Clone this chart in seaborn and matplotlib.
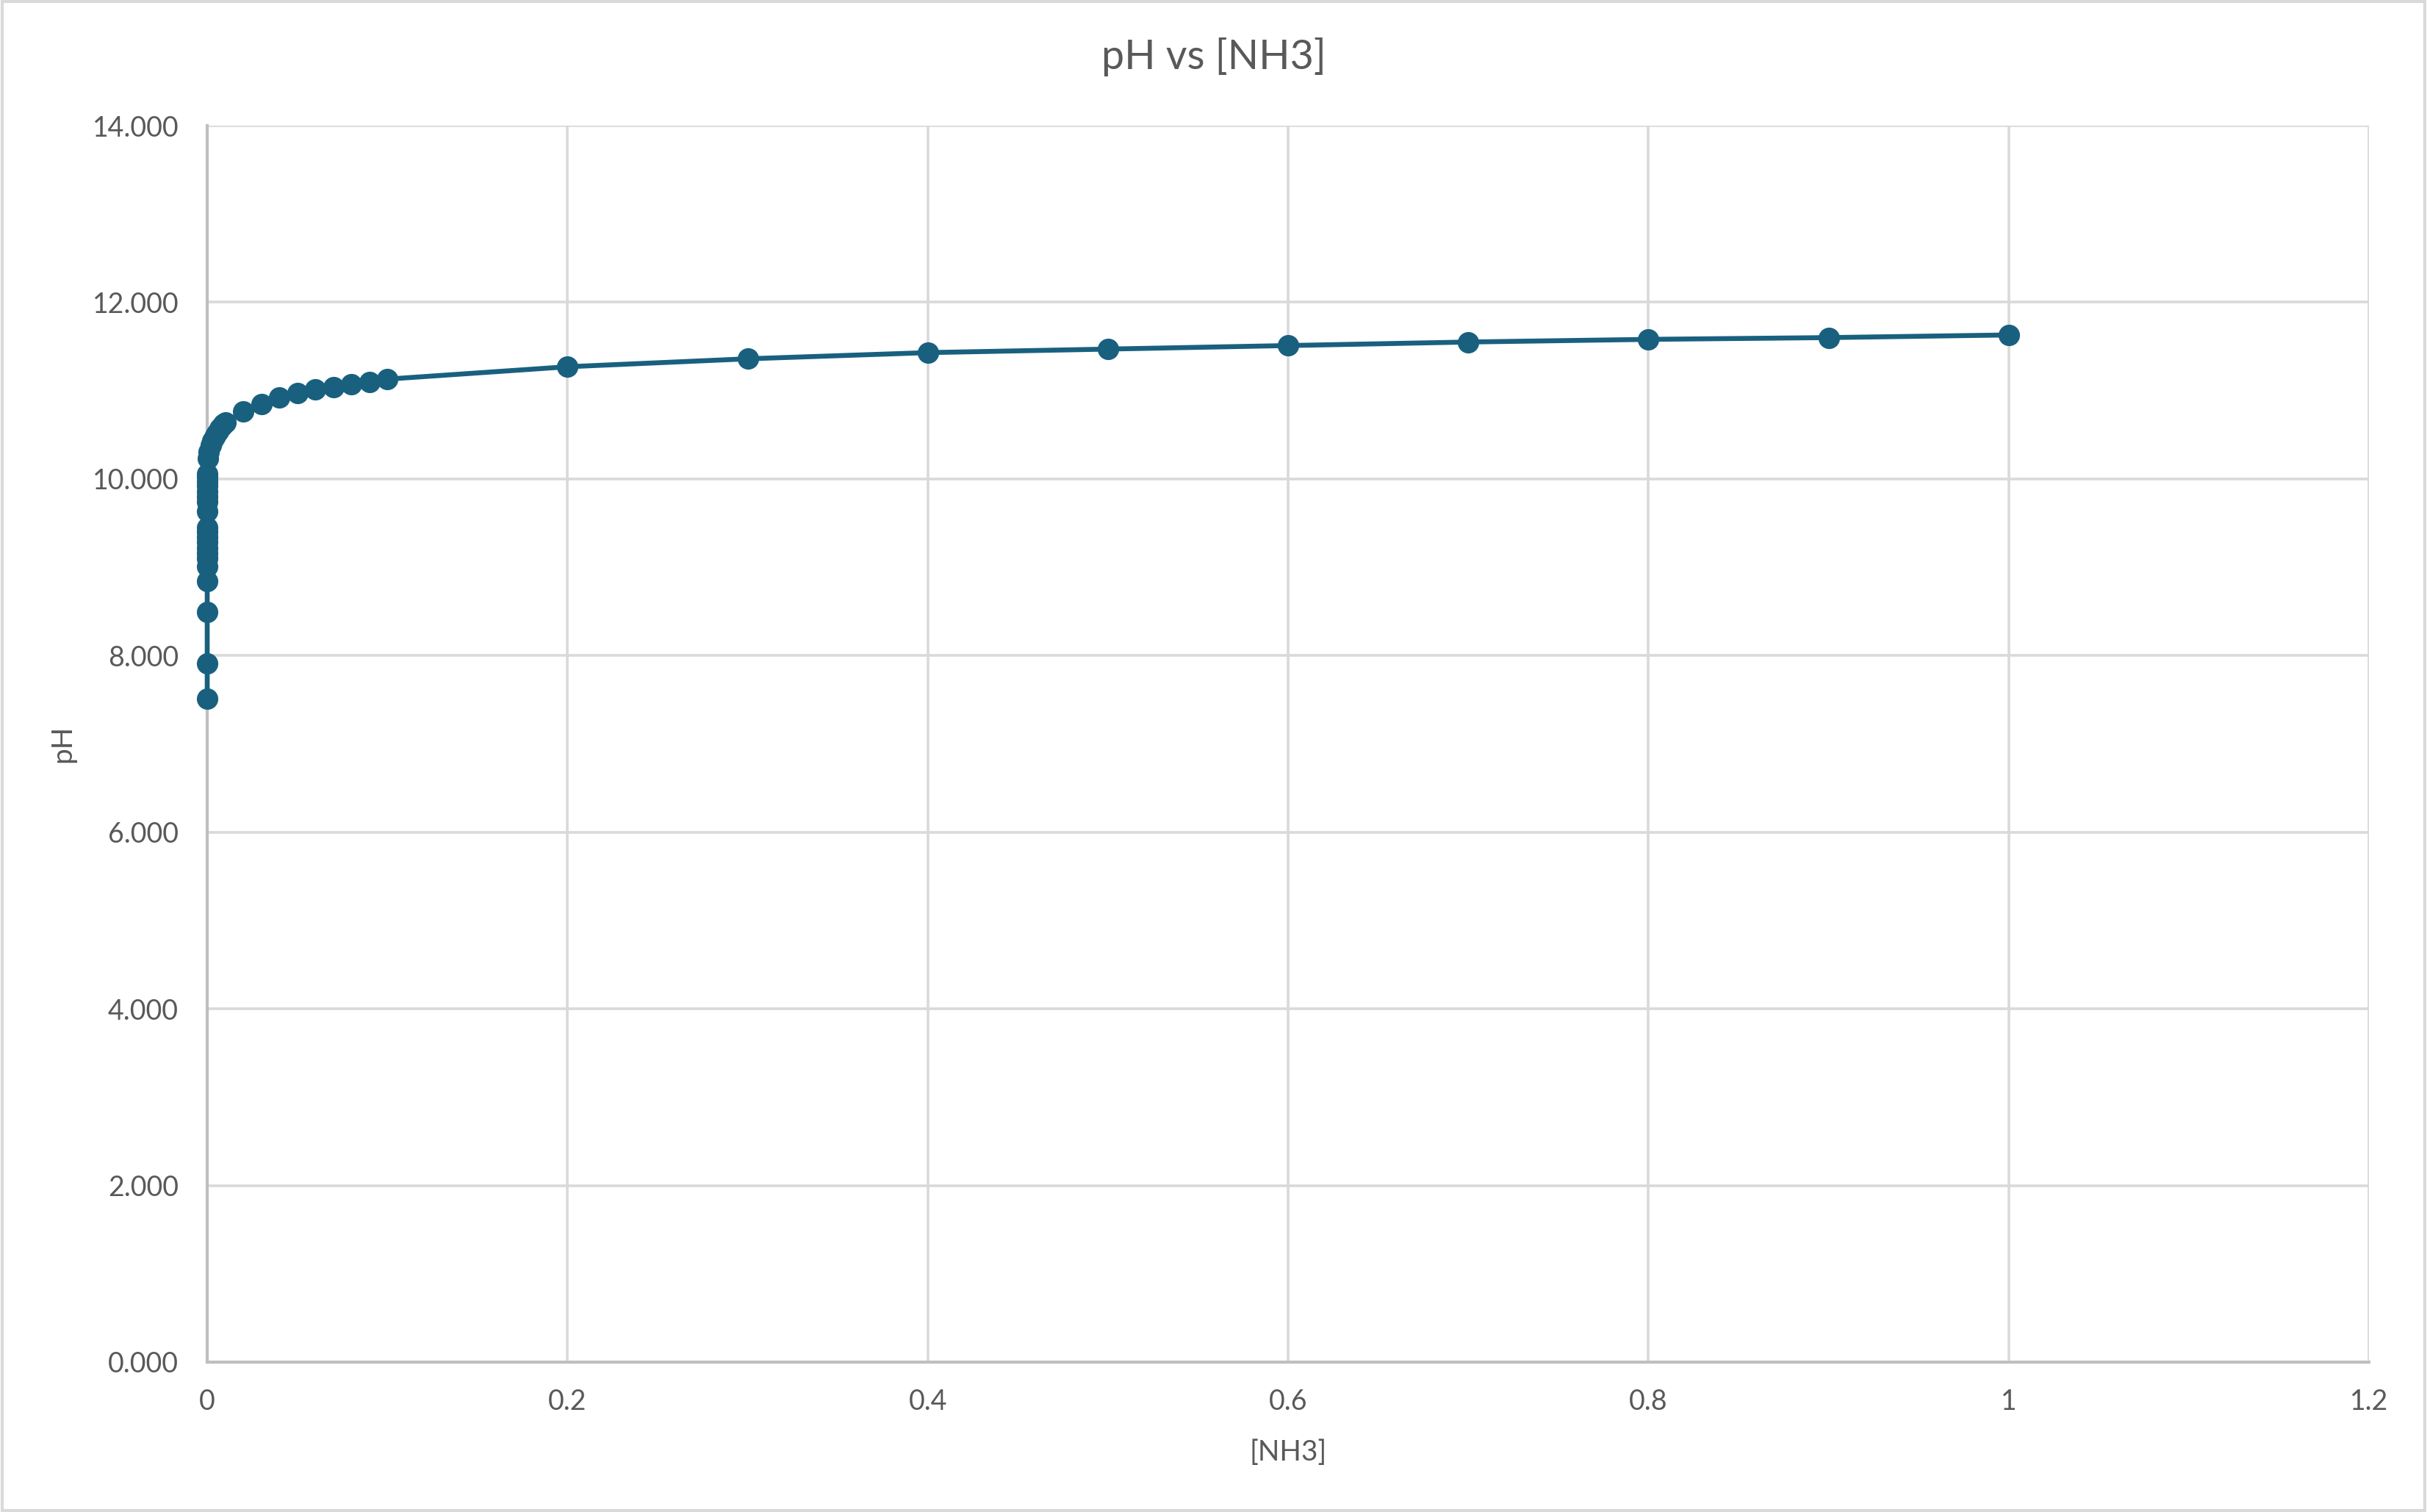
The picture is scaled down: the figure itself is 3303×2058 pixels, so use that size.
import matplotlib
matplotlib.use("Agg")
import matplotlib.pyplot as plt
import seaborn as sns
import pandas as pd
from matplotlib.patches import Rectangle
from matplotlib.ticker import FormatStrFormatter, FixedLocator

conc = [0.0000001, 0.0000002, 0.0000005, 0.000001, 0.0000015, 0.000002, 0.0000025,
        0.000003, 0.0000035, 0.000004, 0.0000045, 0.000005, 0.00001, 0.00002,
        0.00003, 0.00004, 0.00005, 0.00006, 0.00007, 0.00008, 0.0005, 0.001,
        0.002, 0.003, 0.004, 0.005, 0.006, 0.007, 0.008, 0.009, 0.01,
        0.02, 0.03, 0.04, 0.05, 0.06, 0.07, 0.08, 0.09, 0.1,
        0.2, 0.3, 0.4, 0.5, 0.6, 0.7, 0.8, 0.9, 1.0]
ph = [7.51, 7.91, 8.49, 8.84, 9.01, 9.10, 9.16,
      9.22, 9.28, 9.34, 9.40, 9.45, 9.63, 9.74,
      9.80, 9.86, 9.92, 9.97, 10.02, 10.06, 10.23, 10.31,
      10.38, 10.43, 10.47, 10.51, 10.54, 10.57, 10.60, 10.62, 10.64,
      10.76, 10.85, 10.92, 10.97, 11.01, 11.04, 11.07, 11.10, 11.13,
      11.27, 11.36, 11.43, 11.47, 11.51, 11.55, 11.58, 11.60, 11.63]

x_ticks = [0, 0.2, 0.4, 0.6, 0.8, 1.0, 1.2]
x_tick_labels = ["0", "0.2", "0.4", "0.6", "0.8", "1", "1.2"]
y_ticks = [0, 2, 4, 6, 8, 10, 12, 14]

title = "pH vs [NH3]"
xlabel = "[NH3]"
ylabel = "pH"

sns.set_theme(style="white")
plt.rcParams['font.family'] = ['Lato', 'DejaVu Sans']

txt = "#595959"
line_color = "#19607f"

df = pd.DataFrame({"conc": conc, "ph": ph})

fig = plt.figure(figsize=(3303 / 200, 2058 / 200), dpi=200)
ax = fig.add_axes([282 / 3303, 1 - 1854 / 2058, (3224 - 282) / 3303, (1854 - 171) / 2058])

sns.lineplot(data=df, x="conc", y="ph", ax=ax, sort=False, estimator=None,
             color=line_color, linewidth=2.4, marker="o", markersize=10.5,
             markeredgewidth=0, markerfacecolor=line_color, zorder=3)
for ln in ax.lines:
    ln.set_clip_on(False)

ax.set_xlim(0, 1.2)
ax.set_ylim(0, 14)
ax.xaxis.set_major_locator(FixedLocator(x_ticks))
ax.set_xticklabels(x_tick_labels)
ax.yaxis.set_major_locator(FixedLocator(y_ticks))
ax.yaxis.set_major_formatter(FormatStrFormatter("%.3f"))

ax.grid(True, color="#d9d9d9", linewidth=1.3, zorder=0)
ax.set_axisbelow(True)
for s in ["top", "right"]:
    ax.spines[s].set_visible(False)
for s in ["left", "bottom"]:
    ax.spines[s].set_color("#bfbfbf")
    ax.spines[s].set_linewidth(1.5)
    ax.spines[s].set_zorder(1)

ax.tick_params(axis="both", length=0, labelsize=13.5, labelcolor=txt)
ax.tick_params(axis="x", pad=13)
ax.tick_params(axis="y", pad=14)

ax.set_xlabel(xlabel, fontsize=14, color=txt, labelpad=12)
ax.set_ylabel(ylabel, fontsize=14, color=txt, labelpad=8)
fig.text(0.5, 1 - 78 / 2058, title, ha="center", va="center", fontsize=20, color=txt)

fig.patches.append(Rectangle((0.001, 0.001), 0.998, 0.998, transform=fig.transFigure,
                             fill=False, edgecolor="#d9d9d9", linewidth=1.5))

fig.savefig("out.png", dpi=200, facecolor="white")
